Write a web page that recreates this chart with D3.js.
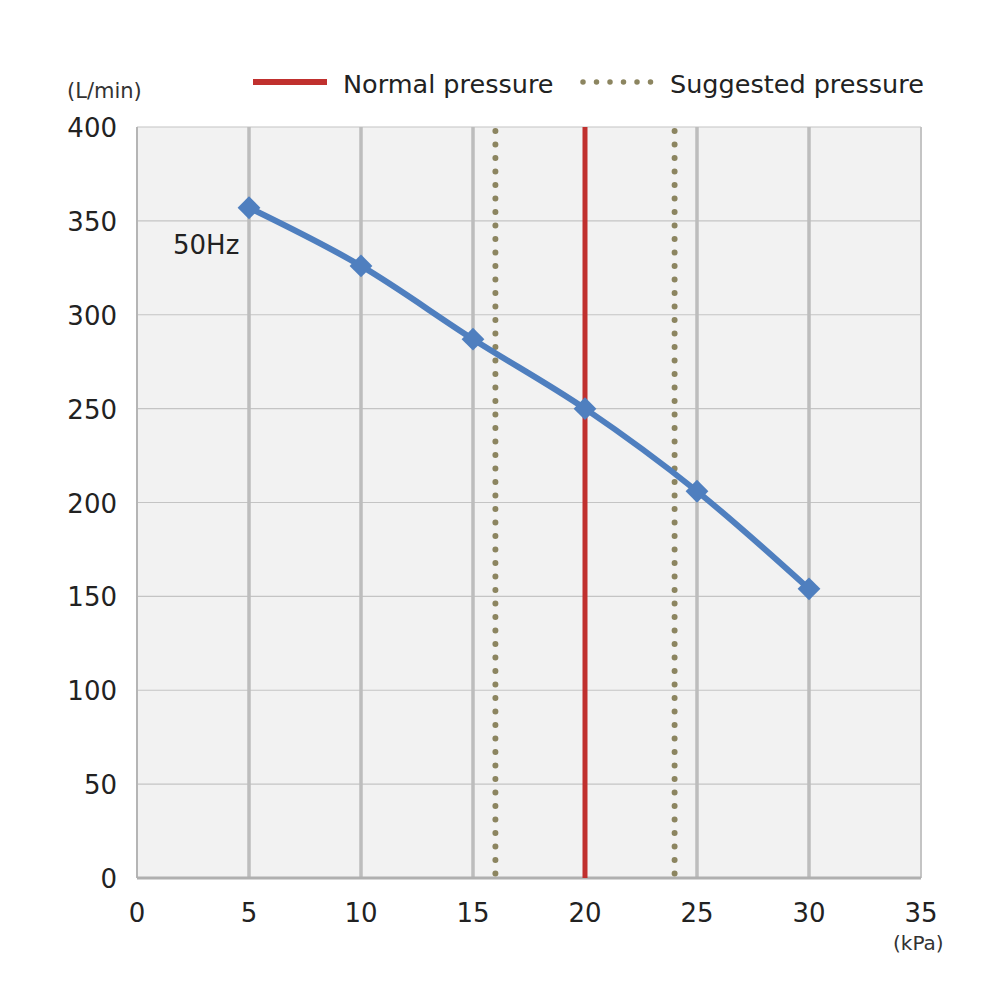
<!DOCTYPE html>
<html><head><meta charset="utf-8">
<script src="https://cdn.jsdelivr.net/npm/d3@7"></script>
<style>body{margin:0;background:#fff;} text{font-family:"DejaVu Sans",sans-serif;}</style>
</head><body>
<svg id="c" width="1000" height="1000"></svg>
<script>
const pressure = [5, 10, 15, 20, 25, 30];
const flow = [357, 326, 287, 250, 206, 154];
const xTicks = [0, 5, 10, 15, 20, 25, 30, 35];
const yTicks = [0, 50, 100, 150, 200, 250, 300, 350, 400];
const normalPressure = [20];
const suggestedPressure = [16, 24];
const seriesLabel = "50Hz";
const legendLabels = ["Normal pressure", "Suggested pressure"];

const svg = d3.select("#c");
const x = d3.scaleLinear().domain([0, 35]).range([137, 921]);
const y = d3.scaleLinear().domain([0, 400]).range([878, 127]);

svg.append("rect").attr("x", x(0)).attr("y", y(400)).attr("width", x(35) - x(0)).attr("height", y(0) - y(400)).attr("fill", "#f2f2f2");

svg.append("g").selectAll("line").data(yTicks.filter(d => d > 0)).join("line")
  .attr("x1", x(0)).attr("x2", x(35)).attr("y1", d => y(d)).attr("y2", d => y(d))
  .attr("stroke", "#c4c4c4").attr("stroke-width", 1.2);
svg.append("g").selectAll("line").data(xTicks.filter(d => d > 0 && d < 35)).join("line")
  .attr("x1", d => x(d)).attr("x2", d => x(d)).attr("y1", y(400)).attr("y2", y(0))
  .attr("stroke", "#bdbdbd").attr("stroke-width", 3.5);
svg.append("line").attr("x1", x(0)).attr("x2", x(0)).attr("y1", y(400)).attr("y2", y(0)).attr("stroke", "#b5b5b5").attr("stroke-width", 2);
svg.append("line").attr("x1", x(35)).attr("x2", x(35)).attr("y1", y(400)).attr("y2", y(0)).attr("stroke", "#c4c4c4").attr("stroke-width", 2);
svg.append("line").attr("x1", x(0)).attr("x2", x(35)).attr("y1", y(0)).attr("y2", y(0)).attr("stroke", "#b0b0b0").attr("stroke-width", 3);

svg.append("g").selectAll("line").data(suggestedPressure).join("line")
  .attr("x1", d => x(d)).attr("x2", d => x(d)).attr("y1", y(400) + 4).attr("y2", y(0) - 2)
  .attr("stroke", "#8c8560").attr("stroke-width", 6).attr("stroke-linecap", "round")
  .attr("stroke-dasharray", "0 13.5");
svg.append("g").selectAll("line").data(normalPressure).join("line")
  .attr("x1", d => x(d)).attr("x2", d => x(d)).attr("y1", y(400)).attr("y2", y(0))
  .attr("stroke", "#c0302e").attr("stroke-width", 5);

const pts = pressure.map((p, i) => [p, flow[i]]);
svg.append("path").datum(pts)
  .attr("d", d3.line().x(d => x(d[0])).y(d => y(d[1])).curve(d3.curveMonotoneX))
  .attr("fill", "none").attr("stroke", "#4f7fbf").attr("stroke-width", 6);
svg.append("g").selectAll("path").data(pts).join("path")
  .attr("d", d3.symbol().type(d3.symbolSquare).size(260))
  .attr("transform", d => `translate(${x(d[0])},${y(d[1])}) rotate(45)`)
  .attr("fill", "#4f7fbf");

svg.append("g").selectAll("text").data(yTicks).join("text")
  .attr("x", 117).attr("y", d => y(d) + 10).attr("text-anchor", "end")
  .attr("font-size", 26).attr("fill", "#222").text(d => d);
svg.append("g").selectAll("text").data(xTicks).join("text")
  .attr("x", d => x(d)).attr("y", 922).attr("text-anchor", "middle")
  .attr("font-size", 26).attr("fill", "#222").text(d => d);

svg.append("text").attr("x", 67).attr("y", 98).attr("font-size", 21).attr("fill", "#333").text("(L/min)");
svg.append("text").attr("x", 893).attr("y", 950).attr("font-size", 20).attr("fill", "#333").text("(kPa)");
svg.append("text").attr("x", 173).attr("y", 254).attr("font-size", 26).attr("fill", "#222").text(seriesLabel);

svg.append("line").attr("x1", 253).attr("x2", 327).attr("y1", 82).attr("y2", 82).attr("stroke", "#c0302e").attr("stroke-width", 6);
svg.append("text").attr("x", 343).attr("y", 93).attr("font-size", 25.5).attr("fill", "#222").text(legendLabels[0]);
svg.append("line").attr("x1", 583).attr("x2", 655).attr("y1", 82).attr("y2", 82).attr("stroke", "#8c8560").attr("stroke-width", 5.5).attr("stroke-linecap", "round").attr("stroke-dasharray", "0 13.5");
svg.append("text").attr("x", 670).attr("y", 93).attr("font-size", 25.5).attr("fill", "#222").text(legendLabels[1]);
</script>
</body></html>
